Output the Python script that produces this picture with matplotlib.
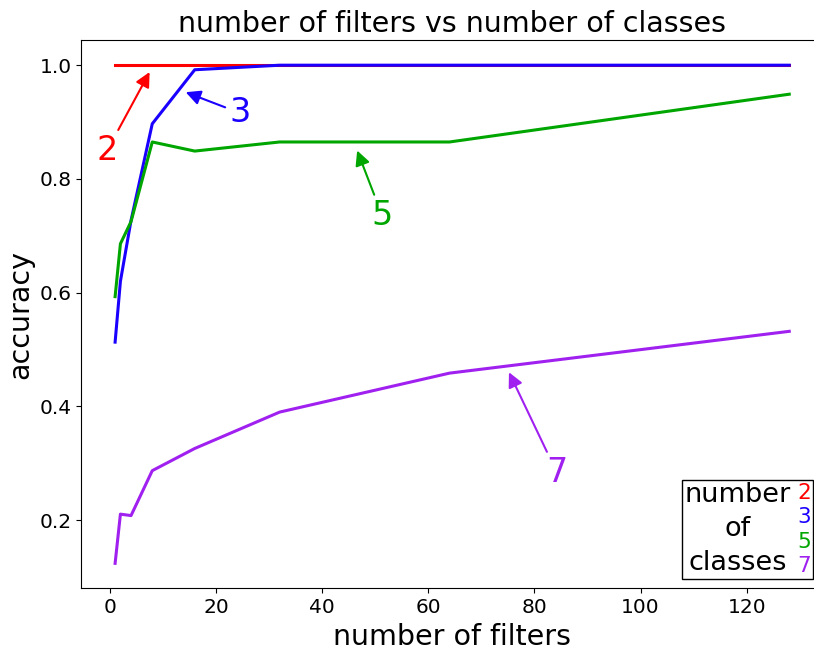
import numpy as np
import matplotlib
matplotlib.use('Agg')
import matplotlib.pyplot as plt
from matplotlib.offsetbox import TextArea, HPacker, VPacker, AnchoredOffsetbox

filters = [1, 2, 4, 8, 16, 32, 64, 128]
acc_2 = [1.0, 1.0, 1.0, 1.0, 1.0, 1.0, 1.0, 1.0]
acc_3 = [0.513, 0.620, 0.727, 0.897, 0.992, 1.0, 1.0, 1.0]
acc_5 = [0.593, 0.686, 0.725, 0.865, 0.849, 0.865, 0.865, 0.949]
acc_7 = [0.124, 0.2105, 0.208, 0.287, 0.326, 0.390, 0.4585, 0.532]

classes = ['2', '3', '5', '7']
colors = ['#ff0000', '#1a00ff', '#00a600', '#a020f0']

# annotation spots: (arrow tip, text position)
notes = [((7.5, 0.988), (-0.5, 0.85)),
         ((14.3, 0.9525), (24.5, 0.916)),
         ((46.6, 0.85), (51.3, 0.736)),
         ((75.2, 0.46), (84.2, 0.284))]

fig, ax = plt.subplots(figsize=(8.14, 6.5), dpi=100)
fig.subplots_adjust(left=0.100, right=1.011, top=0.938, bottom=0.095)

for ys, c in zip([acc_2, acc_3, acc_5, acc_7], colors):
    ax.plot(filters, ys, color=c, lw=2.2)

for lab, c, (tip, txt) in zip(classes, colors, notes):
    ax.annotate(lab, xy=tip, xytext=txt, color=c, fontsize=24,
                ha='center', va='center',
                arrowprops=dict(arrowstyle='-|>', color=c, lw=1.5,
                                mutation_scale=22, shrinkA=1, shrinkB=0))

ax.set_title('number of filters vs number of classes', fontsize=20.5)
ax.set_xlabel('number of filters', fontsize=20.5)
ax.set_ylabel('accuracy', fontsize=20.5)
ax.tick_params(labelsize=14.5)
ax.set_yticks([0.2, 0.4, 0.6, 0.8, 1.0])

# custom legend box
title_box = TextArea('number\nof\nclasses',
                     textprops=dict(fontsize=19.5, multialignment='center',
                                    linespacing=1.4))
digits = VPacker(children=[TextArea(k, textprops=dict(fontsize=15.5, color=c))
                           for k, c in zip(classes, colors)],
                 align='center', pad=0, sep=3)
box = HPacker(children=[title_box, digits], align='center', pad=0, sep=5)
anchored = AnchoredOffsetbox(loc='lower right', child=box, pad=0.15,
                             borderpad=0.7, frameon=True)
anchored.patch.set_edgecolor('black')
ax.add_artist(anchored)

fig.savefig('out.png')
